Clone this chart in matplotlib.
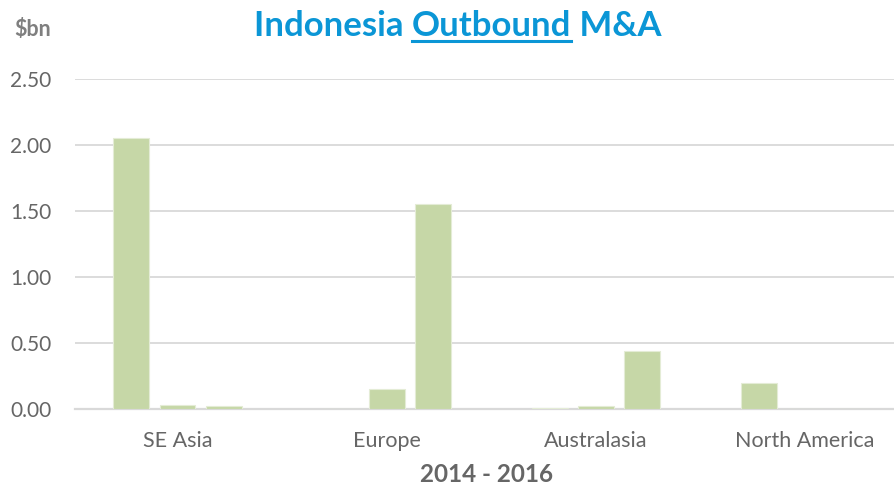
import matplotlib
matplotlib.use("Agg")
import matplotlib.pyplot as plt
import numpy as np

categories = ["SE Asia", "Europe", "Australasia", "North America"]
years = ["2014", "2015", "2016"]
v2014 = [2.05, 0.0, 0.01, 0.20]
v2015 = [0.03, 0.15, 0.02, 0.0]
v2016 = [0.02, 1.55, 0.44, 0.0]
yticks = [0.0, 0.5, 1.0, 1.5, 2.0, 2.5]
ytick_labels = ["0.00", "0.50", "1.00", "1.50", "2.00", "2.50"]

plt.rcParams['font.family'] = ['Lato', 'DejaVu Sans']

fig = plt.figure(figsize=(8.95, 4.93), dpi=100)
ax = fig.add_axes([75/895, (493-409)/493, 820/895, 330/493])

bar_color = "#C6D7A7"
grid_color = "#D9D9D9"
text_gray = "#666666"

x = np.arange(len(categories))
off = 0.22
w = 0.172
for i, vals in enumerate([v2014, v2015, v2016]):
    ax.bar(x + (i - 1) * off, vals, width=w, color=bar_color,
           edgecolor="#E4ECD6", linewidth=0.8, zorder=3)

ax.set_xlim(-0.49, 3.43)
ax.set_ylim(0, 2.5)
ax.set_yticks(yticks)
ax.set_yticklabels(ytick_labels, fontsize=15, color=text_gray)
ax.set_xticks(x)
ax.set_xticklabels(categories, fontsize=15.5, color=text_gray)
ax.tick_params(axis='both', length=0)
ax.tick_params(axis='y', pad=17)
ax.tick_params(axis='x', pad=16)
ax.grid(axis='y', color=grid_color, linewidth=1.3, zorder=0)
for s in ["top", "right", "left"]:
    ax.spines[s].set_visible(False)
ax.spines["bottom"].set_color(grid_color)
ax.spines["bottom"].set_linewidth(1.6)

fig.text(487/895, 1 - 474/493, "2014 - 2016", ha="center", va="center",
         fontsize=17.5, fontweight="bold", color=text_gray)
fig.text(14/895, 1 - 30/493, "$bn", ha="left", va="center",
         fontsize=15.5, fontweight="bold", color="#7F7F7F")

# Title with underlined "Outbound"
title_color = "#0B96D6"
parts = ["Indonesia ", "Outbound", " M&A"]
fs = 25
fig.canvas.draw()
renderer = fig.canvas.get_renderer()
tmp = []
widths = []
for p in parts:
    t = fig.text(0, 0, p, fontsize=fs, fontweight="bold", color=title_color)
    bb = t.get_window_extent(renderer)
    widths.append(bb.width)
    tmp.append(t)
for t in tmp:
    t.remove()
total = sum(widths)
cx = 458
start = cx - total / 2
yb = 1 - 36/493
xpos = start
for p, wd in zip(parts, widths):
    fig.text(xpos / 895, yb, p, fontsize=fs, fontweight="bold",
             color=title_color, ha="left", va="baseline")
    if p == "Outbound":
        fig.add_artist(plt.Line2D([xpos / 895, (xpos + wd) / 895],
                                  [1 - 41/493, 1 - 41/493],
                                  color=title_color, linewidth=2.2,
                                  transform=fig.transFigure))
    xpos += wd

fig.savefig("out.png", dpi=100)
